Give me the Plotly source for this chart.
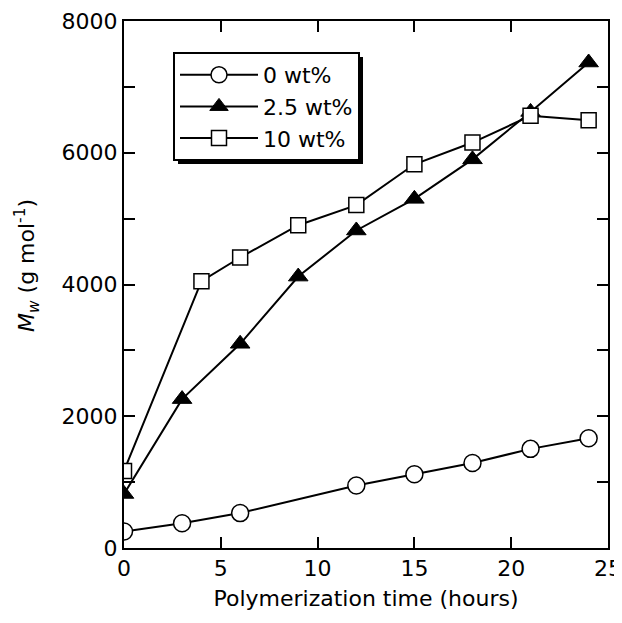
import plotly.graph_objects as go

# data
t_0 = [0, 3, 6, 12, 15, 18, 21, 24]
mw_0 = [250, 375, 530, 950, 1120, 1290, 1505, 1665]

t_25 = [0, 3, 6, 9, 12, 15, 18, 21, 24]
mw_25 = [820, 2260, 3100, 4120, 4820, 5300, 5900, 6620, 7370]

t_10 = [0, 4, 6, 9, 12, 15, 18, 21, 24]
mw_10 = [1170, 4050, 4410, 4900, 5205, 5825, 6155, 6560, 6495]

y_ticks = list(range(0, 8001, 1000))
y_labels = [str(v) if v % 2000 == 0 else "" for v in y_ticks]

FONT = "DejaVu Sans"

# the page body has an 8px margin, so work in page pixels and shift
OFF = 8
FIG_W, FIG_H = 622 - OFF, 623 - OFF
# plot area in page pixels (left, right, top, bottom)
L, R, T, B = 124, 608, 21, 548
W, H = R - L, B - T


def px_x(p):
    return (p - L) / W


def px_y(p):
    return (B - p) / H


fig = go.Figure()
fig.add_trace(go.Scatter(
    x=t_0, y=mw_0, name="0 wt%", mode="lines+markers",
    line=dict(color="black", width=2),
    marker=dict(symbol="circle", size=17, color="white",
                line=dict(color="black", width=1.5))
))
fig.add_trace(go.Scatter(
    x=t_25, y=mw_25, name="2.5 wt%", mode="lines+markers",
    line=dict(color="black", width=2),
    marker=dict(symbol="triangle-up", size=17, color="black",
                line=dict(color="black", width=1))
))
fig.add_trace(go.Scatter(
    x=t_10, y=mw_10, name="10 wt%", mode="lines+markers",
    line=dict(color="black", width=2),
    marker=dict(symbol="square", size=15, color="white",
                line=dict(color="black", width=1.5))
))

# legend drop shadow
fig.add_shape(type="rect", xref="paper", yref="paper",
              x0=px_x(178), x1=px_x(363),
              y0=px_y(164), y1=px_y(57),
              fillcolor="black", line=dict(width=0), layer="above")

# y axis title placed by hand (sits a bit above centre in the reference)
fig.add_annotation(
    text="<i>M</i><sub><i>w</i></sub> (g mol<sup>-1</sup>)",
    xref="paper", yref="paper", x=px_x(27), y=px_y(266),
    xanchor="center", yanchor="middle",
    textangle=-90, showarrow=False, font=dict(size=22),
)

fig.update_layout(
    width=FIG_W, height=FIG_H,
    margin=dict(l=L - OFF, r=FIG_W - (R - OFF), t=T - OFF, b=FIG_H - (B - OFF)),
    paper_bgcolor="white", plot_bgcolor="white",
    font=dict(family=FONT, size=22, color="black"),
    showlegend=True,
    legend=dict(
        x=px_x(173), y=px_y(52),
        xanchor="left", yanchor="top",
        bgcolor="white", bordercolor="black", borderwidth=2,
        font=dict(size=22), itemwidth=78,
        tracegroupgap=0,
    ),
    xaxis=dict(
        range=[0, 25], tickmode="array", tickvals=[0, 5, 10, 15, 20, 25],
        ticks="inside", ticklen=11, tickwidth=1.5, tickcolor="black",
        showline=True, linecolor="black", linewidth=2, mirror="ticks",
        showgrid=False, zeroline=False, automargin=False,
        title=dict(text="Polymerization time (hours)", standoff=10,
                   font=dict(size=22)),
    ),
    yaxis=dict(
        range=[0, 8000], tickmode="array", tickvals=y_ticks, ticktext=y_labels,
        ticks="inside", ticklen=11, tickwidth=1.5, tickcolor="black",
        showline=True, linecolor="black", linewidth=2, mirror="ticks",
        showgrid=False, zeroline=False, automargin=False,
    ),
)

fig.write_html("out.html")
